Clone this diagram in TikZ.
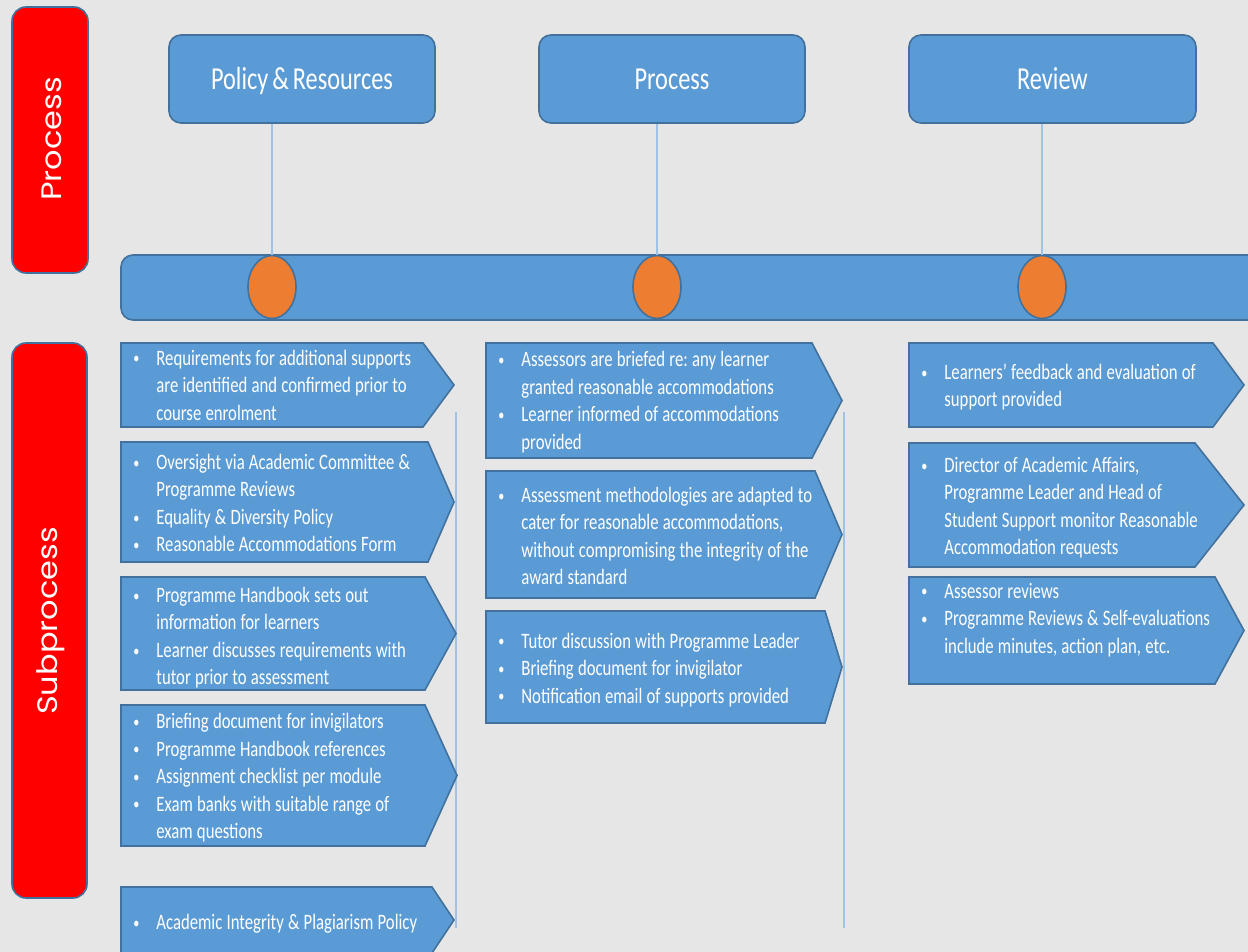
\documentclass[tikz,border=0pt]{standalone}
\usepackage{fontspec}
\setmainfont{Carlito}[FakeStretch=0.76,WordSpace=0.72]
\newfontfamily\bandfont{Poppins}
\usetikzlibrary{shapes.geometric}

\definecolor{pagegray}{HTML}{E6E6E6}
\definecolor{boxblue}{HTML}{5B9BD5}
\definecolor{edgeblue}{HTML}{41719C}
\definecolor{dotorange}{HTML}{ED7D31}
\definecolor{bandred}{HTML}{FF0000}
\definecolor{linkblue}{HTML}{9DC3E6}

% one bullet item; \lnb breaks a line and indents the continuation under the text
\newcommand\itm{\par\noindent\makebox[11.5pt][l]{\raisebox{0.6pt}{\fontsize{8}{8}\selectfont •}}\strut}
\newcommand\lnb{\newline\hspace*{11.5pt}}
\newcommand\itmstart{\raggedright\spaceskip=2.1pt\xspaceskip=2.1pt\relax}
\newcommand\itmend{\strut\par}
% header label with its baseline set a fixed distance below the box centre
\newcommand\headlabel[1]{\raisebox{-5.5pt}[0pt][0pt]{#1}}
% chevron: left x, top y, bottom y, x where the point starts, x of the tip
\newcommand\chevron[5]{%
  \draw[chev] (#1,#2) -- (#4,#2) -- (#5,{(#2+#3)/2}) -- (#4,#3) -- (#1,#3) -- cycle;}

\begin{document}
\begin{tikzpicture}[x=0.5pt,y=-0.5pt,
  band/.style={draw=edgeblue,line width=0.8pt,fill=bandred,rounded corners=7pt},
  bandtext/.style={rotate=90,text=white,inner sep=0pt,
    font=\bandfont\fontsize{16}{18}\selectfont},
  topbox/.style={draw=edgeblue,line width=0.8pt,fill=boxblue,rounded corners=6pt,
    minimum height=44pt,text=white,font=\fontsize{16}{19}\selectfont},
  stage/.style={ellipse,draw=edgeblue,line width=0.8pt,fill=dotorange,
    minimum width=24pt,minimum height=31.5pt,inner sep=0pt},
  chev/.style={draw=edgeblue,line width=0.8pt,fill=boxblue},
  body/.style={anchor=west,inner sep=0pt,yshift=1pt,text=white,text width=180pt,
    font=\fontsize{11}{13.75}\selectfont,
    execute at begin node=\itmstart,execute at end node=\itmend},
  conn/.style={draw=linkblue,line width=0.6pt},
  rule/.style={draw=linkblue,line width=0.6pt}]

\fill[pagegray] (0,0) rectangle (1248,952);
\useasboundingbox (0,0) rectangle (1248,952);

\begin{scope}
\clip (0,0) rectangle (1248,952);

% side bands
\draw[band] (12,7) rectangle (88,273);
\node[bandtext] (bandA) at (52,139) {\scalebox{1}[0.88]{Process}};
\draw[band] (12,343) rectangle (87,898);
\node[bandtext] (bandB) at (51,621) {\scalebox{1}[0.88]{Subprocess}};

% stage headers
\node[topbox,minimum width=133pt] (t1) at (302,79) {\headlabel{Policy \& Resources}};
\node[topbox,minimum width=133pt] (t2) at (672,79) {\headlabel{Process}};
\node[topbox,minimum width=143.5pt] (t3) at (1052.5,79) {\headlabel{Review}};

% timeline bar
\draw[chev,rounded corners=6pt] (121,255) rectangle (1300,320);

% stage markers
\node[stage] (e1) at (272,287) {};
\node[stage] (e2) at (657,287) {};
\node[stage] (e3) at (1042,287) {};

\draw[conn] (e1.north |- t1.south) -- (e1.north);
\draw[conn] (e2.north |- t2.south) -- (e2.north);
\draw[conn] (e3.north |- t3.south) -- (e3.north);

% column dividers
\coordinate (d1a) at (456,412);
\coordinate (d1b) at (456,928);
\coordinate (d2a) at (844,412);
\coordinate (d2b) at (844,928);
\draw[rule] (d1a) -- (d1b);
\draw[rule] (d2a) -- (d2b);

% policy & resources column
\chevron{121}{343}{427}{423}{454}
\chevron{121}{442}{562}{428}{454}
\chevron{121}{577}{690}{425}{456}
\chevron{121}{705}{846}{425}{457}
\chevron{121}{887}{953}{432}{454}

\node[body] (l1) at (133,385) {\itm Requirements for additional supports\lnb are identified and confirmed prior to\lnb course enrolment};
\node[body] (l2) at (133,503) {\itm Oversight via Academic Committee \&\lnb Programme Reviews
  \itm Equality \& Diversity Policy
  \itm Reasonable Accommodations Form};
\node[body] (l3) at (133,636) {\itm Programme Handbook sets out\lnb information for learners
  \itm Learner discusses requirements with\lnb tutor prior to assessment};
\node[body] (l4) at (133,776) {\itm Briefing document for invigilators
  \itm Programme Handbook references
  \itm Assignment checklist per module
  \itm Exam banks with suitable range of\lnb exam questions};
\node[body] (l5) at (133,922) {\itm Academic Integrity \& Plagiarism Policy};

% process column
\chevron{486}{343}{458}{812}{842}
\chevron{486}{471}{598}{815}{842}
\chevron{486}{611}{723}{825}{842}

\node[body] (m1) at (498,400.5) {\itm Assessors are briefed re: any learner\lnb granted reasonable accommodations
  \itm Learner informed of accommodations\lnb provided};
\node[body] (m2) at (498,536) {\itm Assessment methodologies are adapted to\lnb cater for reasonable accommodations,\lnb without compromising the integrity of the\lnb award standard};
\node[body] (m3) at (498,668) {\itm Tutor discussion with Programme Leader
  \itm Briefing document for invigilator
  \itm Notification email of supports provided};

% review column
\chevron{909}{343}{427}{1213}{1244}
\chevron{909}{443}{567}{1195}{1244}
\chevron{909}{577}{684}{1215}{1244}

\node[body] (r1) at (921,385.5) {\itm Learners’ feedback and evaluation of\lnb support provided};
\node[body] (r2) at (921,506) {\itm Director of Academic Affairs,\lnb Programme Leader and Head of\lnb Student Support monitor Reasonable\lnb Accommodation requests};
\node[body] (r3) at (921,618) {\itm Assessor reviews
  \itm Programme Reviews \& Self-evaluations\lnb include minutes, action plan, etc.};
\end{scope}
\end{tikzpicture}
\end{document}
